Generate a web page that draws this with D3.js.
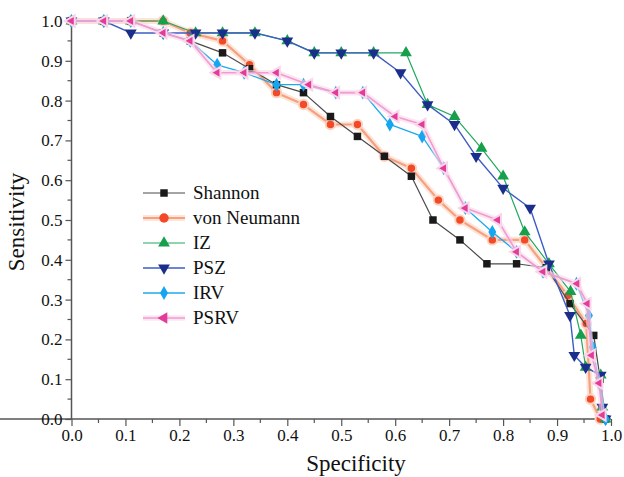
<!DOCTYPE html>
<html>
<head>
<meta charset="utf-8">
<script src="https://cdn.jsdelivr.net/npm/d3@7"></script>
<style>
  body { margin: 0; background: #fff; font-family: "Liberation Serif", serif; }
  svg { display: block; }
  #chart, #chart text { font-family: "Liberation Serif", serif !important; }
</style>
</head>
<body>
<svg id="chart" width="624" height="477" font-family="Liberation Serif"></svg>
<script>
// ROC-like curves: sensitivity vs specificity for six entropy measures

const seriesNames = ["Shannon", "von Neumann", "IZ", "PSZ", "IRV", "PSRV"];

const shannon = [
  [0, 1], [0.06, 1], [0.11, 1], [0.17, 0.97], [0.22, 0.95], [0.28, 0.92], [0.33, 0.88],
  [0.38, 0.84], [0.43, 0.82], [0.48, 0.76], [0.53, 0.71], [0.58, 0.66], [0.63, 0.61],
  [0.67, 0.50], [0.72, 0.45], [0.77, 0.39], [0.825, 0.39], [0.88, 0.38], [0.924, 0.29],
  [0.968, 0.21], [0.98, 0.10], [0.99, 0.0]
];
const vonNeumann = [
  [0, 1], [0.06, 1], [0.11, 1], [0.17, 1], [0.22, 0.97], [0.28, 0.95], [0.33, 0.89],
  [0.38, 0.82], [0.43, 0.79], [0.48, 0.74], [0.53, 0.74], [0.58, 0.66], [0.63, 0.63],
  [0.68, 0.55], [0.72, 0.50], [0.78, 0.45], [0.84, 0.45], [0.88, 0.38], [0.92, 0.31],
  [0.954, 0.24], [0.962, 0.05], [0.98, 0.0]
];
const iz = [
  [0, 1], [0.06, 1], [0.11, 1], [0.17, 1], [0.23, 0.97], [0.28, 0.97], [0.34, 0.97],
  [0.40, 0.95], [0.45, 0.92], [0.50, 0.92], [0.56, 0.92], [0.62, 0.92], [0.66, 0.79],
  [0.71, 0.76], [0.76, 0.68], [0.80, 0.61], [0.84, 0.47], [0.885, 0.39], [0.925, 0.32],
  [0.944, 0.21], [0.953, 0.13], [0.981, 0.11], [0.984, 0.03], [0.99, 0.0]
];
const psz = [
  [0, 1], [0.06, 1], [0.11, 0.97], [0.17, 0.97], [0.23, 0.97], [0.28, 0.97], [0.34, 0.97],
  [0.40, 0.95], [0.45, 0.92], [0.50, 0.92], [0.56, 0.92], [0.61, 0.87], [0.66, 0.79],
  [0.71, 0.74], [0.75, 0.66], [0.80, 0.58], [0.85, 0.53], [0.885, 0.39], [0.924, 0.26],
  [0.932, 0.16], [0.953, 0.13], [0.981, 0.11], [0.984, 0.03], [0.99, 0.0]
];
const irv = [
  [0, 1], [0.06, 1], [0.11, 1], [0.17, 0.97], [0.22, 0.95], [0.27, 0.89], [0.32, 0.87],
  [0.38, 0.84], [0.43, 0.84], [0.49, 0.82], [0.54, 0.82], [0.59, 0.74], [0.65, 0.71],
  [0.69, 0.63], [0.73, 0.53], [0.78, 0.47], [0.825, 0.42], [0.874, 0.37], [0.936, 0.34],
  [0.959, 0.26], [0.966, 0.18], [0.978, 0.09], [0.99, 0.0]
];
const psrv = [
  [0, 1], [0.06, 1], [0.11, 1], [0.17, 0.97], [0.22, 0.95], [0.27, 0.87], [0.32, 0.87],
  [0.38, 0.87], [0.44, 0.84], [0.49, 0.82], [0.54, 0.82], [0.60, 0.76], [0.65, 0.74],
  [0.69, 0.63], [0.73, 0.53], [0.79, 0.50], [0.825, 0.42], [0.874, 0.37], [0.937, 0.34],
  [0.956, 0.29], [0.964, 0.16], [0.978, 0.09], [0.984, 0.01]
];

const xTicks = [0, 0.1, 0.2, 0.3, 0.4, 0.5, 0.6, 0.7, 0.8, 0.9, 1.0];
const yTicks = [0, 0.1, 0.2, 0.3, 0.4, 0.5, 0.6, 0.7, 0.8, 0.9, 1.0];
const minorTicks = [0.05, 0.15, 0.25, 0.35, 0.45, 0.55, 0.65, 0.75, 0.85, 0.95];

// style per series
const styles = {
  "Shannon":     {data: shannon,    line: "#4a4a4a", lw: 1.2, glow: null,      mark: "#1a1a1a", sym: d3.symbolSquare,   size: 56, rot: 0},
  "von Neumann": {data: vonNeumann, line: "#f7a07e", lw: 2.2, glow: "#fcd3c2", mark: "#f24a26", sym: d3.symbolCircle,   size: 70, rot: 0},
  "IZ":          {data: iz,         line: "#20a860", lw: 1.2, glow: null,      mark: "#16a04c", sym: d3.symbolTriangle, size: 60, rot: 0},
  "PSZ":         {data: psz,        line: "#3d5cc4", lw: 1.4, glow: null,      mark: "#1c2e8c", sym: d3.symbolTriangle, size: 60, rot: 180},
  "IRV":         {data: irv,        line: "#1ea8ec", lw: 1.3, glow: null,      mark: "#16a6f0", sym: d3.symbolDiamond,  size: 56, rot: 0},
  "PSRV":        {data: psrv,       line: "#f39ad0", lw: 1.6, glow: "#fad6ea", mark: "#e23c98", sym: d3.symbolTriangle, size: 56, rot: -90}
};
const drawOrder = ["von Neumann", "Shannon", "IZ", "PSZ", "IRV", "PSRV"];

const svg = d3.select("#chart");
const x = d3.scaleLinear().domain([0, 1]).range([71.5, 611]);
const y = d3.scaleLinear().domain([0, 1]).range([419, 21]);
const serif = "Liberation Serif";

// axes
const xAxis = svg.append("g").attr("transform", "translate(0,419)")
  .call(d3.axisBottom(x).tickValues(xTicks).tickFormat(d3.format(".1f")).tickSize(7).tickPadding(3));
const yAxis = svg.append("g").attr("transform", "translate(71.5,0)")
  .call(d3.axisLeft(y).tickValues(yTicks).tickFormat(d3.format(".1f")).tickSize(6).tickPadding(3));

[xAxis, yAxis].forEach(g => {
  g.attr("font-family", serif).attr("font-size", 17);
  g.select(".domain").attr("stroke", "#555").attr("stroke-width", 1.5);
  g.selectAll(".tick line").attr("stroke", "#555").attr("stroke-width", 1.2);
  g.selectAll(".tick text").style("font-family", serif).attr("fill", "#111");
});
yAxis.select(".domain").attr("d", "M0,419V20");
xAxis.select(".domain").attr("d", "M0,0H611");

// minor ticks
xAxis.selectAll(".minor").data(minorTicks).enter().append("line")
  .attr("x1", d => x(d)).attr("x2", d => x(d)).attr("y1", 0).attr("y2", 4)
  .attr("stroke", "#555").attr("stroke-width", 1.2);
yAxis.selectAll(".minor").data(minorTicks).enter().append("line")
  .attr("y1", d => y(d)).attr("y2", d => y(d)).attr("x1", 0).attr("x2", -4)
  .attr("stroke", "#555").attr("stroke-width", 1.2);

// axis titles
svg.append("text").attr("x", 356).attr("y", 471).attr("text-anchor", "middle")
  .style("font-family", serif).attr("font-size", 23).attr("fill", "#111").text("Specificity");
svg.append("text").attr("transform", "translate(24,222) rotate(-90)").attr("text-anchor", "middle")
  .style("font-family", serif).attr("font-size", 23).attr("fill", "#111").text("Sensitivity");

const line = d3.line().x(d => x(d[0])).y(d => y(d[1]));

function symbolPath(s) {
  return d3.symbol().type(s.sym).size(s.size)();
}

drawOrder.forEach(name => {
  const s = styles[name];
  const g = svg.append("g");
  if (s.glow) {
    g.append("path").attr("d", line(s.data)).attr("fill", "none")
      .attr("stroke", s.glow).attr("stroke-width", s.lw + 4).attr("stroke-opacity", 0.6)
      .attr("stroke-linejoin", "round");
  }
  g.append("path").attr("d", line(s.data)).attr("fill", "none")
    .attr("stroke", s.line).attr("stroke-width", s.lw).attr("stroke-linejoin", "round");
  g.selectAll(".m").data(s.data).enter().append("path")
    .attr("d", symbolPath(s))
    .attr("transform", d => `translate(${x(d[0])},${y(d[1])}) rotate(${s.rot})`)
    .attr("fill", s.mark)
    .attr("stroke", s.glow ? s.glow : "none").attr("stroke-width", s.glow ? 2 : 0);
});

// legend
const legendY = [193, 218, 243, 268, 293, 318];
const legend = svg.append("g").attr("font-family", serif);
seriesNames.forEach((name, i) => {
  const s = styles[name];
  const ly = legendY[i];
  if (s.glow) {
    legend.append("line").attr("x1", 143).attr("x2", 185).attr("y1", ly).attr("y2", ly)
      .attr("stroke", s.glow).attr("stroke-width", s.lw + 4).attr("stroke-opacity", 0.6);
  }
  legend.append("line").attr("x1", 143).attr("x2", 185).attr("y1", ly).attr("y2", ly)
    .attr("stroke", s.line).attr("stroke-width", s.lw);
  legend.append("path").attr("d", symbolPath(s))
    .attr("transform", `translate(164,${ly}) rotate(${s.rot})`)
    .attr("fill", s.mark);
  legend.append("text").attr("x", 193).attr("y", ly + 6)
    .style("font-family", serif).attr("font-size", 19).attr("fill", "#111").text(name);
});
</script>
</body>
</html>
